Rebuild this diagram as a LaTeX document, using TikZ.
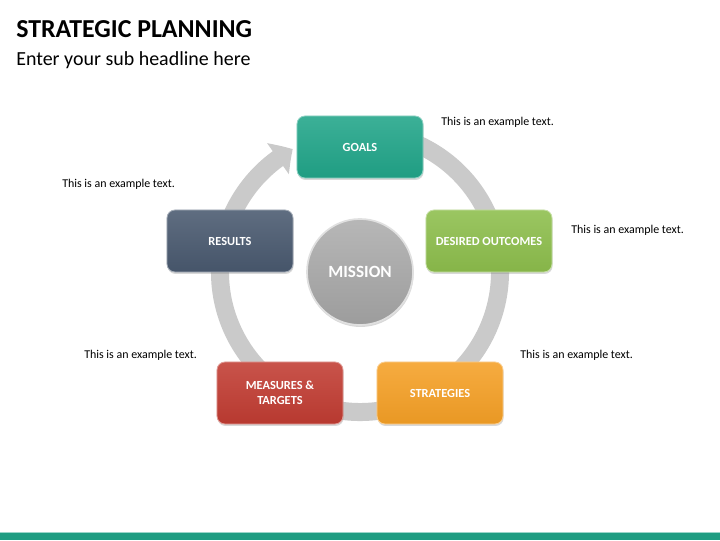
\documentclass[tikz,border=0pt]{standalone}
\usepackage{fontspec}
\setmainfont{Carlito}
\usetikzlibrary{positioning,arrows.meta,bending,shadows}
\definecolor{GoalTeal}{RGB}{33,165,137}
\definecolor{OutcomeGreen}{RGB}{141,190,76}
\definecolor{StrategyOrange}{RGB}{245,160,38}
\definecolor{MeasureRed}{RGB}{193,60,50}
\definecolor{ResultSlate}{RGB}{73,89,111}
\definecolor{RingGray}{RGB}{202,202,202}
\definecolor{MissionGray}{RGB}{170,170,170}
\tikzset{
  ring/.style={line width=0.45cm,draw=RingGray,
    -{Triangle[length=0.44cm,width=0.92cm,bend]}},
  stagebox/.style={rounded corners=0.2cm,minimum width=3.15cm,minimum height=1.55cm,
    align=center,text=white,font=\fontsize{8.8}{10.5}\selectfont\bfseries,
    top color=#1!88!white,bottom color=#1!95!black,draw=#1!50!white,line width=0.6pt,
    drop shadow={opacity=0.3,shadow xshift=0.4pt,shadow yshift=-1.4pt}},
  note/.style={anchor=west,inner sep=0pt,font=\fontsize{8.5}{10}\selectfont},
  missionball/.style={circle,minimum size=2.65cm,text=white,
    top color=MissionGray!85!white,bottom color=MissionGray!92!black,
    draw=white!88!black,line width=1.2pt,font=\fontsize{12.2}{14}\selectfont\bfseries,
    drop shadow={opacity=0.3,shadow xshift=0.4pt,shadow yshift=-1.4pt}}
}
\begin{document}
\begin{tikzpicture}[x=0.025cm,y=0.025cm]
  \useasboundingbox (0,0) rectangle (720,540);
  \fill[white] (0,0) rectangle (720,540);
  % headline
  \node[anchor=west,inner sep=0pt,font=\fontsize{18.4}{22}\selectfont\bfseries] (title) at (16,511) {STRATEGIC PLANNING};
  \node[anchor=west,inner sep=0pt,font=\fontsize{14.2}{17}\selectfont] (subtitle) at (16,480) {Enter your sub headline here};
  % cycle ring
  \coordinate (hub) at (360,268);
  \draw[ring] (hub) ++(80:140) arc[start angle=80,end angle=-241.3,radius=140];
  \node[missionball] (mission) at (hub) {MISSION};
  % stages
  \node[stagebox=GoalTeal] (goals) at (360,393) {GOALS};
  \node[stagebox=OutcomeGreen] (outcomes) at (489,299) {DESIRED OUTCOMES};
  \node[stagebox=StrategyOrange] (strategies) at (440,147) {STRATEGIES};
  \node[stagebox=MeasureRed] (measures) at (280,147) {MEASURES \&\\TARGETS};
  \node[stagebox=ResultSlate] (results) at (230,299) {RESULTS};
  % notes
  \node[note] (goalsnote) at (441,418) {This is an example text.};
  \node[note] (outcomesnote) at (571,310) {This is an example text.};
  \node[note] (strategiesnote) at (520,185) {This is an example text.};
  \node[note] (measuresnote) at (84,185) {This is an example text.};
  \node[note] (resultsnote) at (62,356) {This is an example text.};
  % footer band
  \fill[GoalTeal!45!white] (0,7) rectangle (720,8.5);
  \fill[GoalTeal!95!black] (0,0) rectangle (720,7);
\end{tikzpicture}
\end{document}
